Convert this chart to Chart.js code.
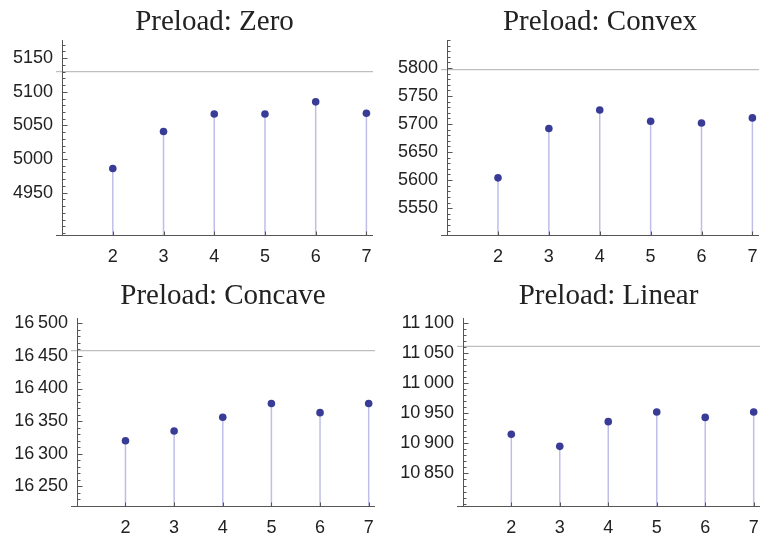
<!DOCTYPE html>
<html>
<head>
<meta charset="utf-8">
<script src="https://cdn.jsdelivr.net/npm/chart.js@4.4.1/dist/chart.umd.min.js"></script>
<style>
  body { margin: 0; background: #fff; }
  #wrap { position: relative; width: 766px; height: 540px; }
  #wrap canvas { position: absolute; }
</style>
</head>
<body>
<div id="wrap">
  <canvas id="c0" width="383" height="270" style="left:0;top:0"></canvas>
  <canvas id="c1" width="383" height="270" style="left:383px;top:0"></canvas>
  <canvas id="c2" width="383" height="270" style="left:0;top:270px"></canvas>
  <canvas id="c3" width="383" height="270" style="left:383px;top:270px"></canvas>
</div>
<script>
// degree on x, value on y
const categories = [2, 3, 4, 5, 6, 7];
const titles = ['Preload: Zero', 'Preload: Convex', 'Preload: Concave', 'Preload: Linear'];
const zeroValues = [4986, 5041, 5067, 5067, 5085, 5068];
const convexValues = [5604, 5692, 5725, 5705, 5702, 5711];
const concaveValues = [16320, 16335, 16356, 16377, 16363, 16377];
const linearValues = [10915, 10895, 10936, 10952, 10943, 10952];
const refValues = [5130, 5797, 16458, 11061];
const zeroTicks = [4950, 5000, 5050, 5100, 5150];
const convexTicks = [5550, 5600, 5650, 5700, 5750, 5800];
const concaveTicks = [16250, 16300, 16350, 16400, 16450, 16500];
const linearTicks = [10850, 10900, 10950, 11000, 11050, 11100];
const yRanges = [[4887, 5177], [5502, 5850], [16220, 16508], [10796, 11108]];
const xMin = 0.88, xMax = 7.13;

const seriesList = [zeroValues, convexValues, concaveValues, linearValues];
const tickList = [zeroTicks, convexTicks, concaveTicks, linearTicks];

// layout per panel
const panels = [
    { left: 56, right: 10, titleTop: 5, titleBottom: 0.2, xHeight: 35, xPad: 11 },
    { left: 58, right: 7, titleTop: 5, titleBottom: 0.2, xHeight: 35, xPad: 11 },
    { left: 71, right: 8, titleTop: 9, titleBottom: 4.2, xHeight: 34, xPad: 11 },
    { left: 74, right: 6, titleTop: 9, titleBottom: 4.2, xHeight: 34, xPad: 11 }
];

function fmt(v) {
    let s = String(v);
    if (s.length > 4) s = s.slice(0, s.length - 3) + '\u2009' + s.slice(s.length - 3);
    return s;
}

const stemAxes = {
    id: 'stemAxes',
    beforeDatasetsDraw(chart) {
        const ctx = chart.ctx, area = chart.chartArea;
        const meta = chart.getDatasetMeta(1);
        ctx.save();
        ctx.strokeStyle = 'rgb(190, 190, 232)';
        ctx.lineWidth = 1.5;
        meta.data.forEach(p => {
            ctx.beginPath();
            ctx.moveTo(p.x, p.y);
            ctx.lineTo(p.x, area.bottom);
            ctx.stroke();
        });
        ctx.restore();
    },
    afterDraw(chart) {
        const ctx = chart.ctx, area = chart.chartArea;
        const xs = chart.scales.x, ys = chart.scales.y;
        const ax = Math.round(xs.getPixelForValue(1)) + 0.5;
        const by = Math.round(area.bottom) + 0.5;
        const major = chart.options.plugins.stemAxes.major;
        ctx.save();
        ctx.strokeStyle = '#555';
        ctx.lineWidth = 1;
        ctx.beginPath();
        ctx.moveTo(area.left, by);
        ctx.lineTo(area.right, by);
        ctx.moveTo(ax, area.top);
        ctx.lineTo(ax, by);
        // y ticks, inside
        for (let v = Math.ceil(ys.min / 10) * 10; v <= ys.max; v += 10) {
            const y = Math.round(ys.getPixelForValue(v)) + 0.5;
            const len = major.includes(v) ? 5 : 3;
            ctx.moveTo(ax, y);
            ctx.lineTo(ax + len, y);
        }
        // x ticks
        categories.forEach(c => {
            const x = Math.round(xs.getPixelForValue(c)) + 0.5;
            ctx.moveTo(x, by);
            ctx.lineTo(x, by - 4);
        });
        ctx.stroke();
        ctx.restore();
    }
};

seriesList.forEach((values, i) => {
    const p = panels[i];
    const yTicks = tickList[i];
    new Chart(document.getElementById('c' + i), {
        type: 'scatter',
        data: {
            datasets: [{
                type: 'line',
                data: [{ x: xMin, y: refValues[i] }, { x: xMax, y: refValues[i] }],
                borderColor: 'rgb(190, 190, 190)',
                borderWidth: 1.2,
                pointRadius: 0,
                fill: false
            }, {
                data: categories.map((c, k) => ({ x: c, y: values[k] })),
                backgroundColor: 'rgb(56, 60, 150)',
                borderWidth: 0,
                pointRadius: 3.8
            }]
        },
        options: {
            responsive: false,
            animation: false,
            events: [],
            layout: { padding: { left: 0, right: p.right, top: 0, bottom: 0 } },
            plugins: {
                legend: { display: false },
                tooltip: { enabled: false },
                title: {
                    display: true,
                    text: titles[i],
                    fullSize: false,
                    color: '#222',
                    font: { family: 'Liberation Serif', size: 29, weight: 'normal', lineHeight: 1.2 },
                    padding: { top: p.titleTop, bottom: p.titleBottom }
                },
                stemAxes: { major: yTicks }
            },
            scales: {
                x: {
                    type: 'linear',
                    min: xMin,
                    max: xMax,
                    grid: { display: false, drawTicks: false },
                    border: { display: false },
                    afterBuildTicks: s => { s.ticks = categories.map(v => ({ value: v })); },
                    afterFit: s => {
                        s.height = p.xHeight;
                        s.paddingLeft = 0;
                        s.paddingRight = 0;
                    },
                    ticks: {
                        padding: p.xPad,
                        color: '#222',
                        maxRotation: 0,
                        font: { family: 'Liberation Sans', size: 18 }
                    }
                },
                y: {
                    min: yRanges[i][0],
                    max: yRanges[i][1],
                    grid: { display: false, drawTicks: false },
                    border: { display: false },
                    afterBuildTicks: s => { s.ticks = yTicks.map(v => ({ value: v })); },
                    afterFit: s => {
                        s.width = p.left;
                        s.paddingTop = 0;
                        s.paddingBottom = 0;
                    },
                    ticks: {
                        padding: 3,
                        color: '#222',
                        font: { family: 'Liberation Sans', size: 18 },
                        callback: v => fmt(v)
                    }
                }
            }
        },
        plugins: [stemAxes]
    });
});
</script>
</body>
</html>
